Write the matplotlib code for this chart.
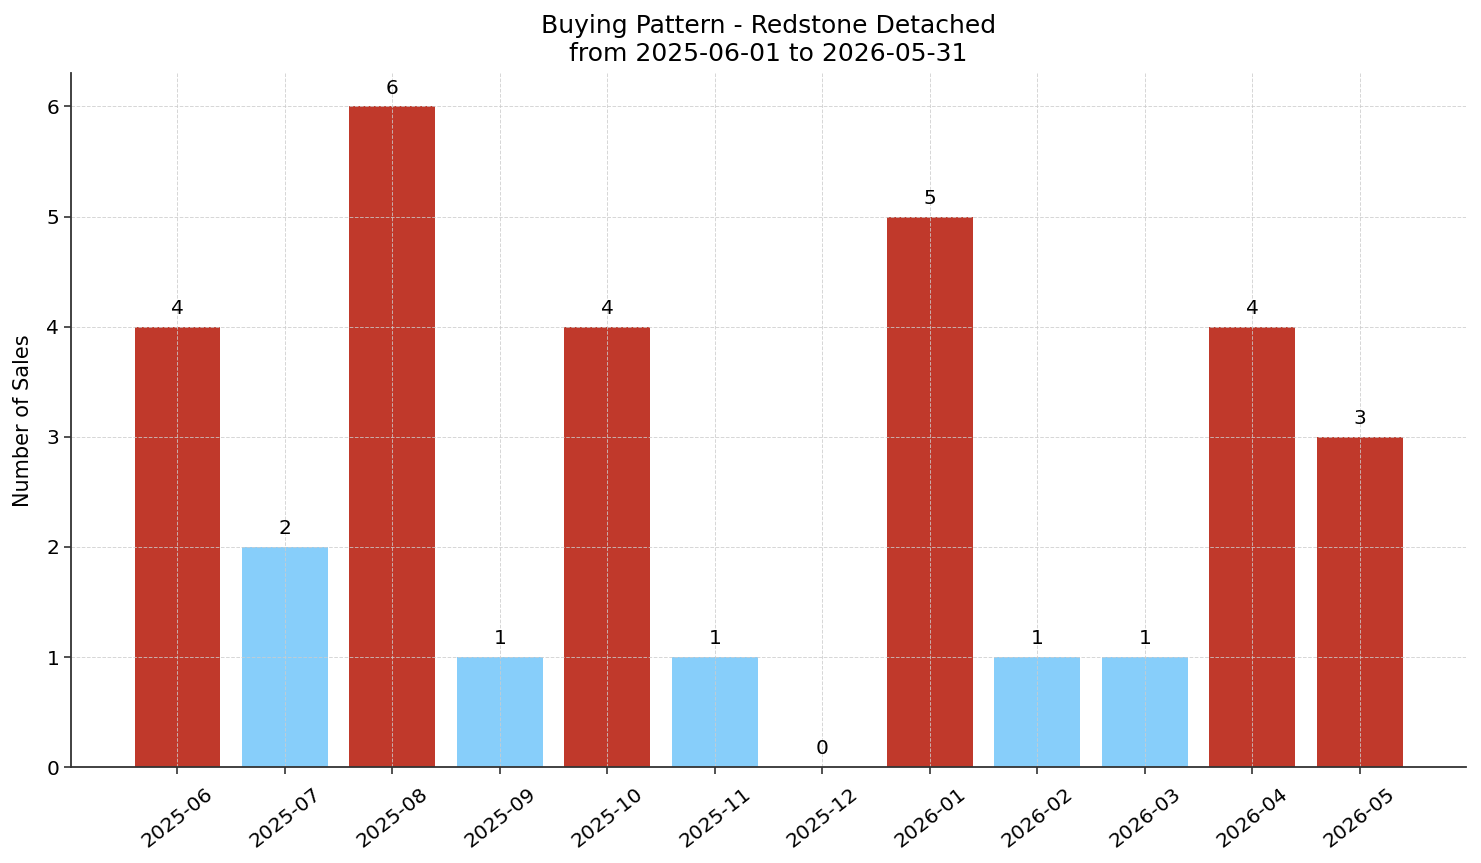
import matplotlib
matplotlib.use("Agg")
import matplotlib.pyplot as plt
import numpy as np

months = ["2025-06", "2025-07", "2025-08", "2025-09", "2025-10", "2025-11",
          "2025-12", "2026-01", "2026-02", "2026-03", "2026-04", "2026-05"]
sales = [4, 2, 6, 1, 4, 1, 0, 5, 1, 1, 4, 3]

high_color = "#c0392b"
low_color = "#87cefa"

avg = np.mean(sales)
colors = [high_color if v > avg else low_color for v in sales]

fig, ax = plt.subplots(figsize=(14.81, 8.63), dpi=100)
fig.subplots_adjust(left=0.048, right=0.99, top=0.915, bottom=0.111)
x = np.arange(len(months))
bars = ax.bar(x, sales, color=colors, width=0.8)

for xi, v in zip(x, sales):
    ax.text(xi, v + 0.08, str(v), ha="center", va="bottom", fontsize=14.5)

ax.set_xticks(x)
ax.set_xticklabels(months, rotation=38, fontsize=14.5)
ax.tick_params(axis="y", labelsize=14.5)
ax.tick_params(length=5, width=1.2, color="#333333")
ax.tick_params(axis="x", pad=7)
ax.set_ylabel("Number of Sales", fontsize=15, labelpad=10)
ax.set_title("Buying Pattern - Redstone Detached\nfrom 2025-06-01 to 2026-05-31", fontsize=18, pad=9)
ax.set_ylim(0, 6.3)
ax.grid(True, linestyle="--", color="#cccccc", alpha=0.8, linewidth=0.7)
ax.spines["top"].set_visible(False)
ax.spines["right"].set_visible(False)
for s in ["left", "bottom"]:
    ax.spines[s].set_color("#333333")
    ax.spines[s].set_linewidth(1.3)

plt.savefig("out.png", dpi=100)
